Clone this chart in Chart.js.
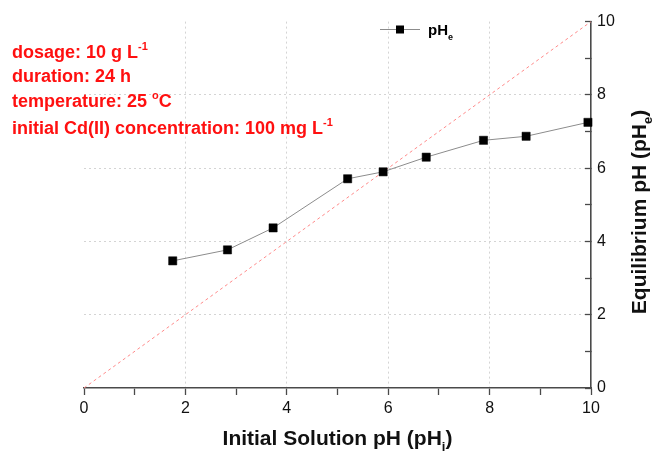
<!DOCTYPE html>
<html>
<head>
<meta charset="utf-8">
<script src="https://cdn.jsdelivr.net/npm/chart.js@4.4.0/dist/chart.umd.min.js"></script>
<style>
  body { margin: 0; background: #fff; }
</style>
</head>
<body>
<canvas id="phChart" width="654" height="451"></canvas>
<script>
//------------Data-----------------

// initial solution pH vs equilibrium pH
const initialPH = [1.75, 2.83, 3.73, 5.20, 5.90, 6.75, 7.88, 8.72, 9.94];
const equilibriumPH = [3.47, 3.77, 4.37, 5.71, 5.90, 6.30, 6.76, 6.87, 7.25];

// y = x reference line
const diagonalX = [0, 10];
const diagonalY = [0, 10];

// labelled ticks (odd values get a tick mark only)
const tickLabels = [0, 2, 4, 6, 8, 10];

//------------Helpers-----------------

const FONT = "'Liberation Sans', Arial, sans-serif";
const AXIS = '#4a4a4a';

function points(xs, ys) {
    return xs.map((x, i) => ({ x: x, y: ys[i] }));
}

// text made of pieces: ['text', ''], ['-1', 'sup'], ['e', 'sub']
function richWidth(ctx, parts, size) {
    let w = 0;
    parts.forEach(([txt, kind]) => {
        ctx.font = `bold ${kind ? Math.round(size * 0.6) : size}px ${FONT}`;
        w += ctx.measureText(txt).width;
    });
    return w;
}

function drawRich(ctx, parts, x, y, size) {
    parts.forEach(([txt, kind]) => {
        let dy = 0;
        if (kind === 'sup') dy = -size * 0.45;
        if (kind === 'sub') dy = size * 0.3;
        ctx.font = `bold ${kind ? Math.round(size * 0.6) : size}px ${FONT}`;
        ctx.fillText(txt, x, y + dy);
        x += ctx.measureText(txt).width;
    });
}

function gridColor(c) {
    const v = c.tick.value;
    return (v % 2 === 0 && v > 0 && v < 10) ? '#d4d4d4' : 'transparent';
}

//------------Text / legend plugin-----------------

const conditions = [
    [['dosage: 10 g L', ''], ['-1', 'sup']],
    [['duration: 24 h', '']],
    [['temperature: 25 ', ''], ['o', 'sup'], ['C', '']],
    [['initial Cd(II) concentration: 100 mg L', ''], ['-1', 'sup']]
];

const textPlugin = {
    id: 'textPlugin',
    afterDraw(chart) {
        const ctx = chart.ctx;
        const area = chart.chartArea;
        ctx.save();
        ctx.textAlign = 'left';
        ctx.textBaseline = 'alphabetic';

        // experiment conditions in red
        ctx.fillStyle = '#ff1010';
        const baselines = [58, 82, 107, 134];
        conditions.forEach((line, i) => drawRich(ctx, line, 12, baselines[i], 18));

        // x axis title
        ctx.fillStyle = '#111';
        const xTitle = [['Initial Solution pH (pH', ''], ['i', 'sub'], [')', '']];
        const xw = richWidth(ctx, xTitle, 21);
        drawRich(ctx, xTitle, (area.left + area.right) / 2 - xw / 2, 445, 21);

        // y axis title, reads bottom to top
        const yTitle = [['Equilibrium pH (pH', ''], ['e', 'sub'], [')', '']];
        const yw = richWidth(ctx, yTitle, 21);
        ctx.save();
        ctx.translate(646, 212);
        ctx.rotate(-Math.PI / 2);
        drawRich(ctx, yTitle, -yw / 2, 0, 21);
        ctx.restore();

        // legend
        ctx.strokeStyle = '#8c8c8c';
        ctx.lineWidth = 1;
        ctx.beginPath();
        ctx.moveTo(380, 29.5);
        ctx.lineTo(420, 29.5);
        ctx.stroke();
        ctx.fillStyle = '#000';
        ctx.fillRect(396, 25.5, 8, 8);
        drawRich(ctx, [['pH', ''], ['e', 'sub']], 428, 35, 15);

        ctx.restore();
    }
};

//------------Chart Area-----------------

const ctx = document.getElementById('phChart').getContext('2d');

new Chart(ctx, {
    type: 'scatter',
    data: {
        datasets: [{
            label: 'pHe',
            data: points(initialPH, equilibriumPH),
            showLine: true,
            borderColor: '#8c8c8c',
            borderWidth: 1,
            pointStyle: 'rect',
            pointRadius: 5.8,
            pointBackgroundColor: '#000',
            pointBorderColor: '#000',
            pointBorderWidth: 0.5,
            clip: false,
            order: 1
        }, {
            label: 'y = x',
            data: points(diagonalX, diagonalY),
            showLine: true,
            borderColor: '#ff8a8a',
            borderWidth: 1,
            borderDash: [3, 3],
            pointRadius: 0,
            order: 2
        }]
    },
    options: {
        responsive: false,
        animation: false,
        layout: {
            padding: { left: 84, top: 17, right: 0, bottom: 0 }
        },
        plugins: {
            legend: { display: false },
            tooltip: { enabled: false }
        },
        scales: {
            x: {
                type: 'linear',
                position: 'bottom',
                min: 0,
                max: 10,
                afterFit: s => { s.height = 63; },
                ticks: {
                    stepSize: 1,
                    autoSkip: false,
                    maxRotation: 0,
                    padding: 4,
                    color: '#111',
                    font: { family: FONT, size: 16 },
                    callback: v => tickLabels.includes(v) ? v : ''
                },
                grid: {
                    color: gridColor,
                    lineWidth: 1,
                    tickColor: AXIS,
                    tickLength: 7,
                    tickWidth: 1.3
                },
                border: { display: true, color: AXIS, width: 1.6, dash: [2, 3] }
            },
            y: {
                type: 'linear',
                position: 'right',
                min: 0,
                max: 10,
                afterFit: s => { s.width = 63; },
                ticks: {
                    stepSize: 1,
                    autoSkip: false,
                    padding: 12,
                    color: '#111',
                    font: { family: FONT, size: 16 },
                    callback: v => tickLabels.includes(v) ? v : ''
                },
                grid: {
                    color: gridColor,
                    lineWidth: 1,
                    tickColor: AXIS,
                    tickLength: -6,
                    tickWidth: 1.3
                },
                border: { display: true, color: AXIS, width: 1.6, dash: [2, 3] }
            }
        }
    },
    plugins: [textPlugin]
});
</script>
</body>
</html>
